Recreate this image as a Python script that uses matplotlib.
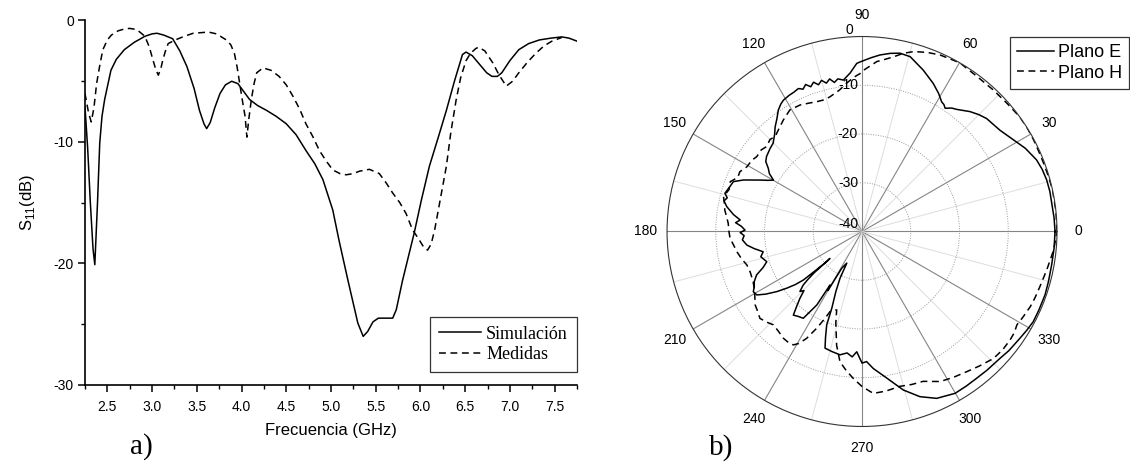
import numpy as np
import matplotlib
matplotlib.use("Agg")
import matplotlib.pyplot as plt
from matplotlib.transforms import ScaledTranslation

plt.rcParams['font.family'] = ['Liberation Sans', 'DejaVu Sans']
plt.rcParams['mathtext.fontset'] = 'custom'
plt.rcParams['mathtext.rm'] = 'Liberation Sans'
plt.rcParams['axes.unicode_minus'] = False

# ---------------- data: a) S11 ----------------
sim_freq = [2.25, 2.28, 2.31, 2.34, 2.36, 2.39, 2.415, 2.44, 2.47, 2.54, 2.60, 2.69, 2.80,
            2.92, 3.00, 3.055, 3.13, 3.23, 3.31, 3.39, 3.47, 3.53, 3.58, 3.61, 3.65,
            3.70, 3.76, 3.82, 3.89, 3.96, 4.02, 4.09, 4.18, 4.28, 4.39, 4.50, 4.61,
            4.72, 4.82, 4.91, 5.02, 5.09, 5.19, 5.30, 5.36, 5.41, 5.47, 5.53, 5.58,
            5.64, 5.69, 5.73, 5.80, 5.87, 5.93, 6.01, 6.10, 6.20, 6.29, 6.38, 6.47,
            6.51, 6.58, 6.66, 6.74, 6.80, 6.86, 6.91, 7.00, 7.10, 7.21, 7.33, 7.46,
            7.58, 7.66, 7.75]
sim_db = [-7.1, -10.5, -15.0, -18.8, -20.1, -15.0, -10.1, -7.9, -6.5, -4.1, -3.2, -2.4, -1.8,
          -1.3, -1.1, -1.05, -1.2, -1.5, -2.5, -3.8, -5.6, -7.4, -8.5, -8.9, -8.4,
          -7.2, -6.0, -5.3, -5.0, -5.2, -5.8, -6.5, -7.0, -7.4, -7.9, -8.5, -9.4,
          -10.7, -11.8, -13.1, -15.6, -18.1, -21.4, -24.9, -26.0, -25.6, -24.8, -24.5, -24.5,
          -24.5, -24.5, -23.8, -21.4, -19.3, -17.5, -14.8, -12.0, -9.6, -7.4, -5.0, -2.8,
          -2.6, -2.9, -3.6, -4.3, -4.6, -4.6, -4.3, -3.3, -2.4, -1.9, -1.6, -1.45,
          -1.35, -1.45, -1.7]

med_freq = [2.25, 2.29, 2.32, 2.35, 2.38, 2.42, 2.45, 2.50, 2.545, 2.62, 2.69, 2.75,
            2.83, 2.92, 2.97, 3.01, 3.04, 3.07, 3.10, 3.12, 3.15, 3.18, 3.26, 3.36,
            3.46, 3.55, 3.63, 3.72, 3.83, 3.88, 3.92, 3.95, 3.98, 4.01, 4.04, 4.06,
            4.08, 4.11, 4.14, 4.17, 4.24, 4.33, 4.42, 4.50, 4.58, 4.65, 4.72, 4.80,
            4.87, 4.95, 5.02, 5.10, 5.17, 5.25, 5.32, 5.43, 5.54, 5.62, 5.69, 5.77,
            5.84, 5.91, 5.99, 6.04, 6.08, 6.12, 6.16, 6.22, 6.29, 6.34, 6.40, 6.45,
            6.51, 6.56, 6.62, 6.65, 6.72, 6.81, 6.88, 6.96, 7.03, 7.10, 7.20, 7.29,
            7.38, 7.47, 7.58]
med_db = [-6.0, -7.6, -8.35, -7.2, -5.2, -3.5, -2.4, -1.6, -1.2, -0.85, -0.7, -0.65,
          -0.75, -1.3, -2.2, -3.25, -4.0, -4.5, -3.9, -3.25, -2.5, -1.9, -1.6, -1.3,
          -1.05, -1.0, -0.95, -1.1, -1.6, -2.0, -2.7, -3.8, -5.2, -6.6, -7.9, -9.6,
          -8.2, -6.5, -5.2, -4.3, -3.9, -4.1, -4.6, -5.3, -6.3, -7.3, -8.5, -9.6,
          -10.7, -11.6, -12.3, -12.6, -12.7, -12.6, -12.4, -12.25, -12.6, -13.4, -14.2, -15.0,
          -15.9, -17.2, -18.1, -18.7, -18.9, -18.4, -17.2, -14.8, -12.0, -9.2, -6.5, -4.7,
          -3.3, -2.7, -2.3, -2.2, -2.5, -3.5, -4.5, -5.4, -5.0, -4.3, -3.4, -2.7,
          -2.1, -1.7, -1.4]

freq_ticks = [2.5, 3.0, 3.5, 4.0, 4.5, 5.0, 5.5, 6.0, 6.5, 7.0, 7.5]
s11_ticks = [0, -10, -20, -30]

# ---------------- data: b) radiation pattern ----------------
e_theta = [0, 4, 8.5, 12, 15.6, 19, 22.3, 27, 31.2, 36.3, 42.2, 45, 48, 52.2, 54, 56, 57.2,
           58.4, 61, 64.3, 69.2, 74.6, 78, 81, 84.2, 87, 90.6, 91.8, 94.3, 97, 99, 100.5,
           102, 103.5, 105, 106.5, 108, 109.5, 111, 112.5, 114, 116.2, 118, 120.9, 122.5,
           124.6, 127, 129.7, 132, 135.2, 138, 141.9, 144, 146, 148, 149.9, 151.5, 153.2,
           156.5, 158.8, 161, 164.4, 166, 167.5, 169.6, 171, 172.5, 174.6, 176, 177.5,
           179.3, 180.5, 182, 184, 186.7, 189, 191.6, 194, 197.6, 200, 202.4, 205, 207,
           209, 211.1, 213, 215.2, 217, 218.5, 219.6, 220.5, 220.0, 220.8, 221.5, 222.3,
           224, 225.5, 227.1, 229, 230.6, 233, 235.9, 238.4, 239.1, 240, 241.1, 244.3,
           244.8, 246.5, 248.5, 249.3, 251, 252.4, 256, 259.9, 263, 265.5, 267.5, 270,
           272, 274.7, 279.6, 284.6, 289.3, 294.1, 299.9, 304, 308, 312, 317.4, 321,
           325.9, 329, 332.2, 336, 340.9, 345, 350, 355, 360]
e_db = [-0.4, -0.5, -0.66, -0.6, -0.67, -0.9, -1.3, -2.4, -3.7, -4.9, -5.5, -6.1, -6.9, -8.3, -8.7, -9.5, -9.0,
        -8.8, -7.6, -6.3, -4.6, -2.8, -2.6, -3.0, -3.6, -4.3, -5.2, -5.5, -7.4, -8.7, -8.3, -8.9,
        -8.0, -8.7, -7.9, -8.6, -7.8, -8.5, -7.7, -8.4, -7.9, -8.2, -8.3, -8.6, -9.0,
        -9.75, -11.0, -12.1, -13.2, -14.3, -14.6, -15.1, -15.6, -16.8, -17.6, -19.0, -18.0, -16.6,
        -13.5, -11.7, -11.4, -10.8, -11.5, -11.0, -11.8, -12.6, -13.4, -14.9, -14.0, -15.2,
        -16.0, -15.0, -15.8, -15.4, -16.2, -17.6, -19.3, -18.6, -19.5, -18.4, -16.6, -15.6, -15.2,
        -14.5, -14.8, -16.4, -18.6, -20.7, -22.5, -24.4, -30.5, -31.4, -27.0, -25.2, -23.7,
        -22.3, -23.0, -21.3, -19.5, -17.8, -18.2, -18.5, -22.3, -27.2, -26.0, -31.4, -32.8,
        -29.4, -26.5, -23.1, -19.5, -17.0, -14.9, -14.6, -14.3, -14.9, -14.2, -15.3, -13.0,
        -13.3, -11.8, -9.5, -6.4, -4.1, -2.5, -1.7, -1.75, -1.8, -1.7, -1.55, -1.2,
        -0.9, -0.6, -0.3, -0.3, -0.27, -0.4, -0.5, -0.45, -0.4]

h_theta = [0, 6, 12.2, 16, 20.6, 24, 28, 32, 35.9, 41.5, 47.1, 53.4, 59.9, 66.1, 70, 74, 77,
           79.8, 82.5, 85, 89.4, 90.7, 93, 95.9, 99, 103.4, 106, 109.2, 112.5, 116.1, 120.7,
           125.2, 129, 132.5, 135, 138.3, 141, 144.6, 147, 150.7, 153.9, 156.5, 159.3, 162.5,
           165.9, 168.5, 171.1, 173.5, 176.5, 180, 183, 186, 189.2, 193, 196.2, 200, 204.8,
           209, 214.5, 217, 220.4, 223.5, 226.5, 230, 233.6, 236, 238.8, 240.5, 242.6, 244.9,
           246.9, 248.2, 250, 252.1, 254, 257.4, 260.4, 263.5, 266.6, 270, 274, 278.5, 283.8,
           288, 292.2, 297.5, 302, 306.8, 311, 316, 320, 323.8, 326.5, 328.9, 332, 335.9,
           339, 342.8, 348.2, 354.5, 360]
h_db = [0.0, 0.0, 0.0, -0.1, -0.2, -0.2, -0.1, 0.0, 0.0, -0.3, -0.4, -0.4, 0.0, -0.4, -0.9, -1.6, -2.5,
        -3.6, -4.4, -5.0, -6.9, -7.6, -8.3, -9.4, -10.6, -11.6, -11.9, -11.8, -11.5, -11.1, -11.0,
        -12.0, -12.9, -13.6, -13.3, -13.8, -13.4, -13.5, -13.1, -12.9, -12.1, -12.2, -11.1, -11.4,
        -10.7, -11.2, -11.5, -12.0, -12.5, -12.7, -12.9, -13.5, -14.0, -14.7, -15.4, -15.6, -15.4,
        -14.8, -13.4, -13.1, -12.5, -13.0, -13.6, -13.3, -12.8, -12.7, -12.8, -13.6, -15.3, -18.1,
        -20.6, -22.3, -22.8, -23.1, -20.5, -16.1, -12.9, -11.3, -9.8, -8.2, -6.7, -6.9, -7.3,
        -7.0, -6.8, -5.3, -4.7, -4.1, -3.4, -2.5, -2.3, -2.35, -2.5, -2.9, -2.6, -2.2,
        -2.0, -1.8, -1.3, -0.5, 0.0]

theta_ticks = list(range(0, 360, 15))
r_ticks = [0, -10, -20, -30, -40]

# ---------------- figure ----------------
fig = plt.figure(figsize=(11.3, 4.68), dpi=100)
fig.patch.set_facecolor('white')

ax = fig.add_axes([0.0752, 0.1774, 0.4354, 0.7788])
ax.plot(sim_freq, sim_db, color='black', lw=1.1, label='Simulación')
ax.plot(med_freq, med_db, color='black', lw=1.1, ls=(0, (4.5, 3)), label='Medidas')
ax.set_xlim(2.25, 7.75)
ax.set_ylim(-30, 0)
ax.set_xticks(freq_ticks)
ax.set_xticklabels([f'{v:.1f}' for v in freq_ticks])
ax.set_xticks(np.arange(2.25, 7.76, 0.25), minor=True)
ax.set_yticks(s11_ticks)
ax.set_yticks([-5, -15, -25], minor=True)
for s in ['top', 'right']:
    ax.spines[s].set_visible(False)
for s in ['left', 'bottom']:
    ax.spines[s].set_linewidth(1.2)
ax.tick_params(which='major', direction='out', length=5, width=1.1, labelsize=10, pad=3)
ax.tick_params(which='minor', direction='out', length=3, width=1.0)
ax.tick_params(axis='x', which='major', pad=6)
ax.set_xlabel('Frecuencia (GHz)', fontsize=12, labelpad=6)
ax.set_ylabel(r'S$_\mathregular{11}$(dB)', fontsize=12, labelpad=12)
leg = ax.legend(loc='lower right', bbox_to_anchor=(1.0, 0.035), borderaxespad=0,
                prop={'family': 'Liberation Serif', 'size': 13}, frameon=True,
                fancybox=False, edgecolor='black', handlelength=2.3, handletextpad=0.3,
                labelspacing=0.2, borderpad=0.5)
leg.get_frame().set_linewidth(0.9)
fig.text(0.125, 0.045, 'a)', family='Liberation Serif', fontsize=21, ha='center', va='center')

# ---------------- polar ----------------
axp = fig.add_axes([0.5903, 0.0887, 0.3451, 0.8333], projection='polar')
lE, = axp.plot(np.deg2rad(e_theta), e_db, color='black', lw=1.1, label='Plano E')
lH, = axp.plot(np.deg2rad(h_theta), h_db, color='black', lw=1.1, ls=(0, (4.5, 3)), label='Plano H')
axp.set_ylim(-40, 0)
axp.set_rgrids([-30, -20, -10], labels=['', '', ''])
axp.yaxis.grid(True, linestyle=(0, (1, 1.5)), color='#9a9a9a', lw=0.7)
axp.set_thetagrids(theta_ticks, labels=[str(a) if a % 30 == 0 else '' for a in theta_ticks])
axp.tick_params(axis='x', labelsize=10, pad=5)
axp.spines['polar'].set_linewidth(0.8)
axp.spines['polar'].set_color('#333333')
for a, gl in zip(theta_ticks, axp.xaxis.get_gridlines()):
    gl.set_linestyle('-')
    if a % 30 == 0:
        gl.set_color('#858585')
        gl.set_linewidth(0.8)
    else:
        gl.set_color('#dddddd')
        gl.set_linewidth(0.7)
for v in r_ticks:
    dx = -9 if v == 0 else -4
    va = 'bottom' if v in (0, -40) else 'center'
    off = ScaledTranslation(dx / 100, 0, fig.dpi_scale_trans)
    axp.text(np.pi / 2, v, str(v), ha='right', va=va, fontsize=10,
             transform=axp.transData + off)

fleg = fig.legend(handles=[lE, lH], loc='upper right', bbox_to_anchor=(0.9991, 0.921),
                  prop={'size': 13}, frameon=True, fancybox=False, edgecolor='black',
                  handlelength=2.05, handletextpad=0.2, labelspacing=0.2, borderpad=0.4,
                  borderaxespad=0)
fleg.get_frame().set_linewidth(0.9)
fig.text(0.638, 0.043, 'b)', family='Liberation Serif', fontsize=21, ha='center', va='center')

fig.savefig('out.png', dpi=100, facecolor='white')
